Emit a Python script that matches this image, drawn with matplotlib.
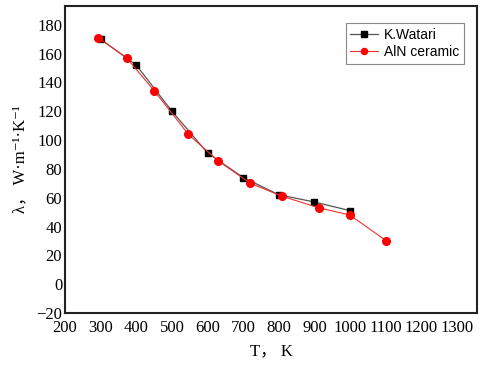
import matplotlib
matplotlib.use("Agg")
import matplotlib.pyplot as plt

# K.Watari reference data
watari_T = [300, 400, 500, 600, 700, 800, 900, 1000]
watari_k = [170, 152, 120, 91, 74, 62, 57, 51]

# AlN ceramic measured data
aln_T = [293, 373, 451, 546, 630, 720, 809, 912, 999, 1102]
aln_k = [171, 157, 134, 104, 85.5, 70, 61, 53, 48, 30]

xticks = list(range(200, 1301, 100))
yticks = list(range(-20, 181, 20))

plt.rcParams["font.family"] = ["Liberation Serif", "Noto Sans CJK SC", "DejaVu Sans"]
plt.rcParams["axes.unicode_minus"] = True

fig = plt.figure(figsize=(5, 3.65), dpi=100)
ax = fig.add_axes([0.13, 0.1425, 0.824, 0.8411])

ax.plot(watari_T, watari_k, color="#555555", lw=0.9, marker="s", ms=5,
        mfc="black", mec="black", label="K.Watari")
ax.plot(aln_T, aln_k, color="#f03030", lw=0.8, marker="o", ms=5.5,
        mfc="#ff0000", mec="#ff0000", label="AlN ceramic")

ax.set_xlim(200, 1356)
ax.set_ylim(-20, 193)
ax.set_xticks(xticks)
ax.set_yticks(yticks)
ax.tick_params(length=0, labelsize=12)
ax.tick_params(axis="x", pad=5)
ax.tick_params(axis="y", pad=2)
for sp in ax.spines.values():
    sp.set_linewidth(1.5)
    sp.set_color("#222222")

ax.set_xlabel("T\uff0c K", fontsize=12, labelpad=5)
ax.set_ylabel("\u03bb\uff0c W\u00b7m\u207b\u00b9\u00b7K\u207b\u00b9", fontsize=12, labelpad=6)

leg = ax.legend(loc="upper right", bbox_to_anchor=(0.968, 0.945),
                prop={"family": "Liberation Sans", "size": 10},
                fancybox=False, edgecolor="#888888", framealpha=1,
                handlelength=2.0, handletextpad=0.4, markerscale=0.8,
                borderpad=0.35, labelspacing=0.25, borderaxespad=0)
leg.get_frame().set_linewidth(0.8)

fig.savefig("out.png", dpi=100)
